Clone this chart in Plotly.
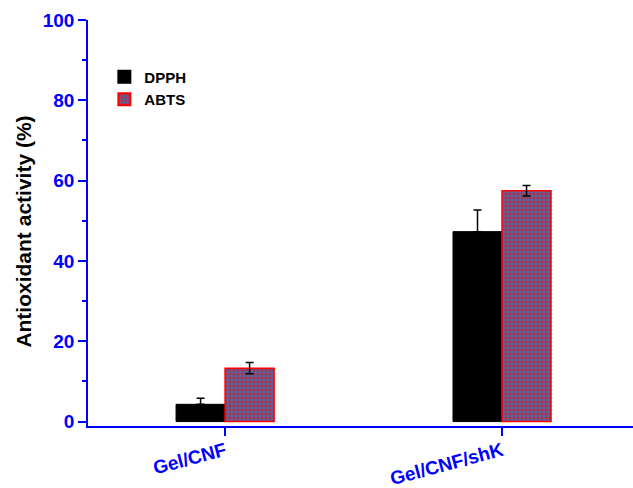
import plotly.graph_objects as go

categories = ["Gel/CNF", "Gel/CNF/shK"]
dpph_values = [4.3, 47.3]
dpph_err = [1.5, 5.4]
abts_values = [13.3, 57.5]
abts_err = [1.4, 1.3]
y_ticks = [0, 20, 40, 60, 80, 100]

FONT = "Liberation Sans, Arial, sans-serif"
BLUE = "#0000FF"

fig = go.Figure()
fig.add_trace(go.Bar(
    name="DPPH", x=categories, y=dpph_values,
    marker=dict(color="black", line=dict(color="black", width=1)),
    error_y=dict(type="data", array=dpph_err, arrayminus=[0, 0], symmetric=False,
                 color="black", thickness=1.5, width=4),
))
fig.add_trace(go.Bar(
    name="ABTS", x=categories, y=abts_values,
    marker=dict(color="#4A6CA8", line=dict(color="#FF0000", width=1.5),
                pattern=dict(shape="+", fgcolor="#FF0000", bgcolor="#4A6CA8",
                             size=4, solidity=0.28, fgopacity=1)),
    error_y=dict(type="data", array=abts_err, color="black", thickness=1.5, width=4),
))

fig.update_layout(
    width=633, height=488,
    margin=dict(l=88, r=0, t=20, b=62, autoexpand=False),
    paper_bgcolor="white", plot_bgcolor="white",
    barmode="group", bargap=0.646, bargroupgap=0,
    font=dict(family=FONT, size=18, color="black", weight="bold"),
    showlegend=True,
    legend=dict(x=0.03, y=0.9, xanchor="left", yanchor="top",
                font=dict(family=FONT, size=15, color="black", weight="bold"),
                bgcolor="rgba(0,0,0,0)", tracegroupgap=4, itemsizing="constant"),
    annotations=[dict(
        text="Antioxidant activity (%)", textangle=-90,
        xref="paper", yref="paper", x=-0.118, y=0.478,
        xanchor="center", yanchor="middle", showarrow=False,
        font=dict(family=FONT, size=21, color="black", weight="bold"),
    )],
)
fig.update_xaxes(
    type="category", range=[-0.495, 1.473], automargin=False,
    showline=True, linecolor=BLUE, linewidth=1.5,
    ticks="outside", ticklen=8, tickwidth=1.5, tickcolor=BLUE,
    tickangle=-15, ticklabelstandoff=-3,
    tickfont=dict(family=FONT, size=19, color=BLUE, weight="bold"),
    showgrid=False, zeroline=False,
)
fig.update_yaxes(
    range=[-1.1, 100], automargin=False,
    tickvals=y_ticks,
    showline=True, linecolor=BLUE, linewidth=1.5,
    ticks="outside", ticklen=8, tickwidth=1.5, tickcolor=BLUE,
    minor=dict(dtick=10, tick0=0, ticks="outside", ticklen=4, tickwidth=1.5, tickcolor=BLUE, showgrid=False),
    tickfont=dict(family=FONT, size=19, color=BLUE, weight="bold"),
    showgrid=False, zeroline=False,
)

fig.write_html("out.html", config={"displayModeBar": False},
               post_script="document.body.style.margin='0';")
